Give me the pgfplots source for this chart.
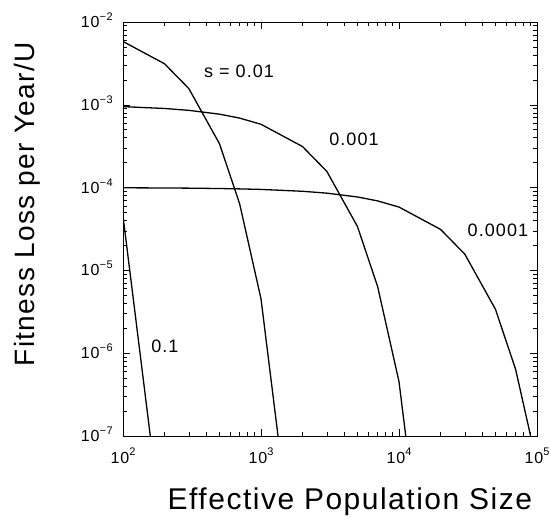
\documentclass[border=0pt]{standalone}
\usepackage{fontspec}
\setmainfont{Liberation Sans}
\newfontfamily\lblfont[LetterSpace=5]{Liberation Sans}
\newfontfamily\numfont[LetterSpace=6]{Liberation Sans}
\usepackage{pgfplots}
\pgfplotsset{compat=1.18}
\newcommand\pw[1]{\fontsize{16}{16}\selectfont\numfont 10\raisebox{0.44em}{\fontsize{11}{11}\selectfont #1}}
\tikzset{
  xtl/.style={anchor=base, inner sep=0pt, yshift=-27pt},
  ytl/.style={anchor=base east, inner sep=0pt, xshift=-10pt, yshift=-5.5pt},
}

\begin{document}
\begin{tikzpicture}
\begin{axis}[
  xmode=log, ymode=log,
  scale only axis, width=414pt, height=414pt,
  xmin=100, xmax=100000, ymin=1e-7, ymax=1e-2,
  clip mode=individual,
  axis line style={line width=0.8pt},
  tick align=inside,
  major tick length=7pt, minor tick length=4pt,
  every tick/.style={black, line width=0.6pt},
  xtick={100,1000,10000,100000},
  xticklabels={},
  ytick={1e-7,1e-6,1e-5,1e-4,1e-3,1e-2},
  yticklabels={},
  minor xtick={200,300,400,500,600,700,800,900,2000,3000,4000,5000,6000,7000,8000,9000,20000,30000,40000,50000,60000,70000,80000,90000},
  minor ytick={2e-7,3e-7,4e-7,5e-7,6e-7,7e-7,8e-7,9e-7,2e-6,3e-6,4e-6,5e-6,6e-6,7e-6,8e-6,9e-6,2e-5,3e-5,4e-5,5e-5,6e-5,7e-5,8e-5,9e-5,2e-4,3e-4,4e-4,5e-4,6e-4,7e-4,8e-4,9e-4,2e-3,3e-3,4e-3,5e-3,6e-3,7e-3,8e-3,9e-3},
  xlabel={\lblfont Effective Population Size},
  ylabel={\lblfont Fitness Loss per Year/U},
  xlabel style={font=\fontsize{30}{30}\selectfont, at={(axis description cs:0.548,-0.1787)}, anchor=base},
  ylabel style={font=\fontsize{28}{28}\selectfont, at={(axis description cs:-0.2126,0.56)}, anchor=base},
]
\addplot[black, line width=1.3pt] coordinates {(100,4.54e-5) (200,4.12e-9)};
\addplot[black, line width=1.3pt] coordinates {(100,5.82e-3) (200,3.13e-3) (300,1.57e-3) (500,3.39e-4) (700,6.39e-5) (1000,4.54e-6) (2000,4.12e-10)};
\addplot[black, line width=1.3pt] coordinates {(100,9.51e-4) (200,9.03e-4) (300,8.57e-4) (500,7.71e-4) (700,6.91e-4) (1000,5.82e-4) (2000,3.13e-4) (3000,1.57e-4) (5000,3.39e-5) (7000,6.39e-6) (10000,4.54e-7) (20000,4.12e-11)};
\addplot[black, line width=1.3pt] coordinates {(100,9.95e-5) (200,9.90e-5) (300,9.85e-5) (500,9.75e-5) (700,9.65e-5) (1000,9.51e-5) (2000,9.03e-5) (3000,8.57e-5) (5000,7.71e-5) (7000,6.91e-5) (10000,5.82e-5) (20000,3.13e-5) (30000,1.57e-5) (50000,3.39e-6) (70000,6.39e-7) (100000,4.54e-8)};
\node[font=\fontsize{18}{18}\selectfont\numfont, anchor=center] at (axis cs:693,2.56e-3) {s = 0.01};
\node[font=\fontsize{18}{18}\selectfont\numfont, anchor=center] at (axis cs:4720,3.86e-4) {0.001};
\node[font=\fontsize{18}{18}\selectfont\numfont, anchor=center] at (axis cs:52100,3.08e-5) {0.0001};
\node[font=\fontsize{18}{18}\selectfont\numfont, anchor=center] at (axis cs:201,1.22e-6) {0.1};
\node[xtl] at (axis cs:100,1e-7) {\pw{2}};
\node[xtl] at (axis cs:1000,1e-7) {\pw{3}};
\node[xtl] at (axis cs:10000,1e-7) {\pw{4}};
\node[xtl] at (axis cs:100000,1e-7) {\pw{5}};
\node[ytl] at (axis cs:100,1e-7) {\pw{−7}};
\node[ytl] at (axis cs:100,1e-6) {\pw{−6}};
\node[ytl] at (axis cs:100,1e-5) {\pw{−5}};
\node[ytl] at (axis cs:100,1e-4) {\pw{−4}};
\node[ytl] at (axis cs:100,1e-3) {\pw{−3}};
\node[ytl] at (axis cs:100,1e-2) {\pw{−2}};
\end{axis}
\path[use as bounding box] ([shift={(-123pt,-79pt)}]current axis.south west) rectangle ([shift={(14pt,22pt)}]current axis.north east);
\end{tikzpicture}
\end{document}
